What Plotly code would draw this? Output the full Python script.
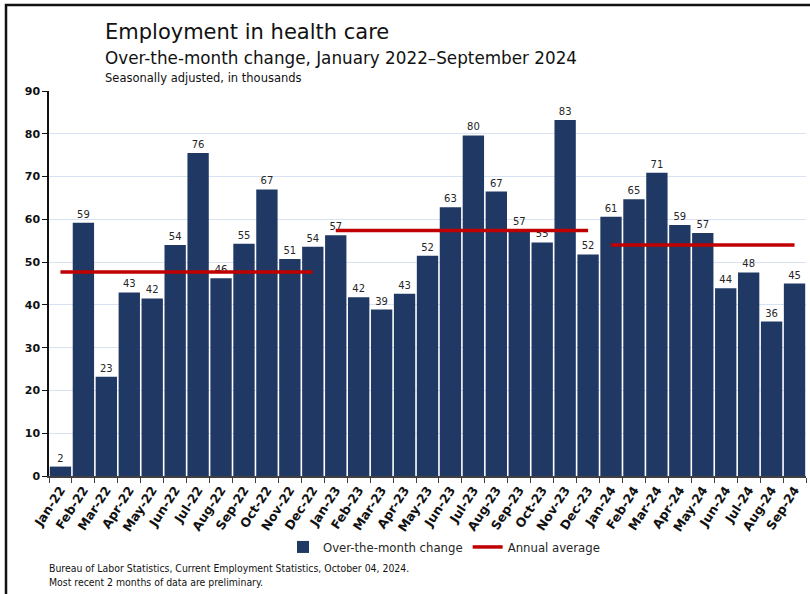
import plotly.graph_objects as go

months = ["Jan-22","Feb-22","Mar-22","Apr-22","May-22","Jun-22","Jul-22","Aug-22","Sep-22","Oct-22","Nov-22","Dec-22",
          "Jan-23","Feb-23","Mar-23","Apr-23","May-23","Jun-23","Jul-23","Aug-23","Sep-23","Oct-23","Nov-23","Dec-23",
          "Jan-24","Feb-24","Mar-24","Apr-24","May-24","Jun-24","Jul-24","Aug-24","Sep-24"]
change = [2.2, 59.2, 23.2, 42.9, 41.5, 54.0, 75.5, 46.2, 54.3, 67.0, 50.7, 53.6,
          56.3, 41.8, 38.9, 42.6, 51.5, 62.8, 79.6, 66.5, 57.4, 54.6, 83.2, 51.8,
          60.6, 64.7, 70.9, 58.7, 56.8, 43.9, 47.6, 36.1, 45.0]
labels = ["2","59","23","43","42","54","76","46","55","67","51","54",
          "57","42","39","43","52","63","80","67","57","55","83","52",
          "61","65","71","59","57","44","48","36","45"]
avg_2022 = 47.7
avg_2023 = 57.4
avg_2024 = 54.0

NAVY = "#203864"
RED = "#c00000"
FONT = "DejaVu Sans"
COND = "DejaVu Sans Condensed, DejaVu Sans, sans-serif"

fig = go.Figure()
fig.add_trace(go.Bar(
    x=months, y=change, name="Over-the-month change",
    marker=dict(color=NAVY, line=dict(width=0)),
    text=labels, textposition="outside", texttemplate="%{text}",
    textfont=dict(family=FONT, size=10, color="#262626"),
    cliponaxis=False,
))
first = True
for yr, avg in (("22", avg_2022), ("23", avg_2023), ("24", avg_2024)):
    xs = [m for m in months if m.endswith(yr)]
    fig.add_trace(go.Scatter(
        x=[xs[0], xs[-1]], y=[avg, avg], mode="lines",
        line=dict(color=RED, width=3.5), name="Annual average",
        showlegend=first, legendgroup="avg",
    ))
    first = False

L, R, T, B = 49, 4, 91, 118
W, H = 810, 594
pw, ph = W - L - R, H - T - B
def px(x): return (x - L) / pw
def py(y): return (H - B - y) / ph

fig.update_layout(
    width=W, height=H,
    margin=dict(l=L, r=R, t=T, b=B, autoexpand=False),
    plot_bgcolor="white", paper_bgcolor="white",
    bargap=0.07,
    showlegend=True,
    legend=dict(orientation="h", x=px(444), xanchor="center", y=py(547), yanchor="middle",
                font=dict(family=COND, size=13, color="#262626"),
                itemwidth=30, tracegroupgap=0),
    xaxis=dict(
        type="category", tickangle=-57,
        tickfont=dict(family=FONT, size=12.5, color="#111111", weight="bold"),
        showline=True, linecolor="#404040", linewidth=1.5,
        ticks="outside", tickson="boundaries", ticklen=5, tickcolor="#404040",
        showgrid=False, range=[-0.5, 32.5],
    ),
    yaxis=dict(
        range=[0, 90], dtick=10,
        tickfont=dict(family=FONT, size=11, color="#111111", weight="bold"),
        showline=True, linecolor="#111111", linewidth=1.5,
        ticks="outside", ticklen=5, tickcolor="#111111",
        gridcolor="#d9e2f3", gridwidth=1, zeroline=False,
    ),
    annotations=[
        dict(text="Employment in health care", x=px(103), y=py(32), xref="paper", yref="paper",
             xanchor="left", yanchor="middle", showarrow=False,
             font=dict(family=FONT, size=21, color="#111111")),
        dict(text="Over-the-month change, January 2022–September 2024", x=px(103), y=py(58),
             xref="paper", yref="paper", xanchor="left", yanchor="middle", showarrow=False,
             font=dict(family=FONT, size=16.8, color="#111111")),
        dict(text="Seasonally adjusted, in thousands", x=px(103), y=py(78),
             xref="paper", yref="paper", xanchor="left", yanchor="middle", showarrow=False,
             font=dict(family=FONT, size=11.5, color="#111111")),
        dict(text="Bureau of Labor Statistics, Current Employment Statistics, October 04, 2024.",
             x=px(47), y=py(568), xref="paper", yref="paper", xanchor="left", yanchor="middle",
             showarrow=False, font=dict(family=COND, size=10.4, color="#111111")),
        dict(text="Most recent 2 months of data are preliminary.",
             x=px(47), y=py(582), xref="paper", yref="paper", xanchor="left", yanchor="middle",
             showarrow=False, font=dict(family=COND, size=10.4, color="#111111")),
    ],
    shapes=[
        dict(type="rect", xref="paper", yref="paper", x0=px(6), x1=px(815), y0=py(600), y1=py(5),
             line=dict(color="#111111", width=2.5), fillcolor="rgba(0,0,0,0)", layer="above"),
    ],
)

fig.write_html("out.html", config={"displayModeBar": False},
               post_script="document.body.style.margin='0';document.body.style.overflow='hidden';")
